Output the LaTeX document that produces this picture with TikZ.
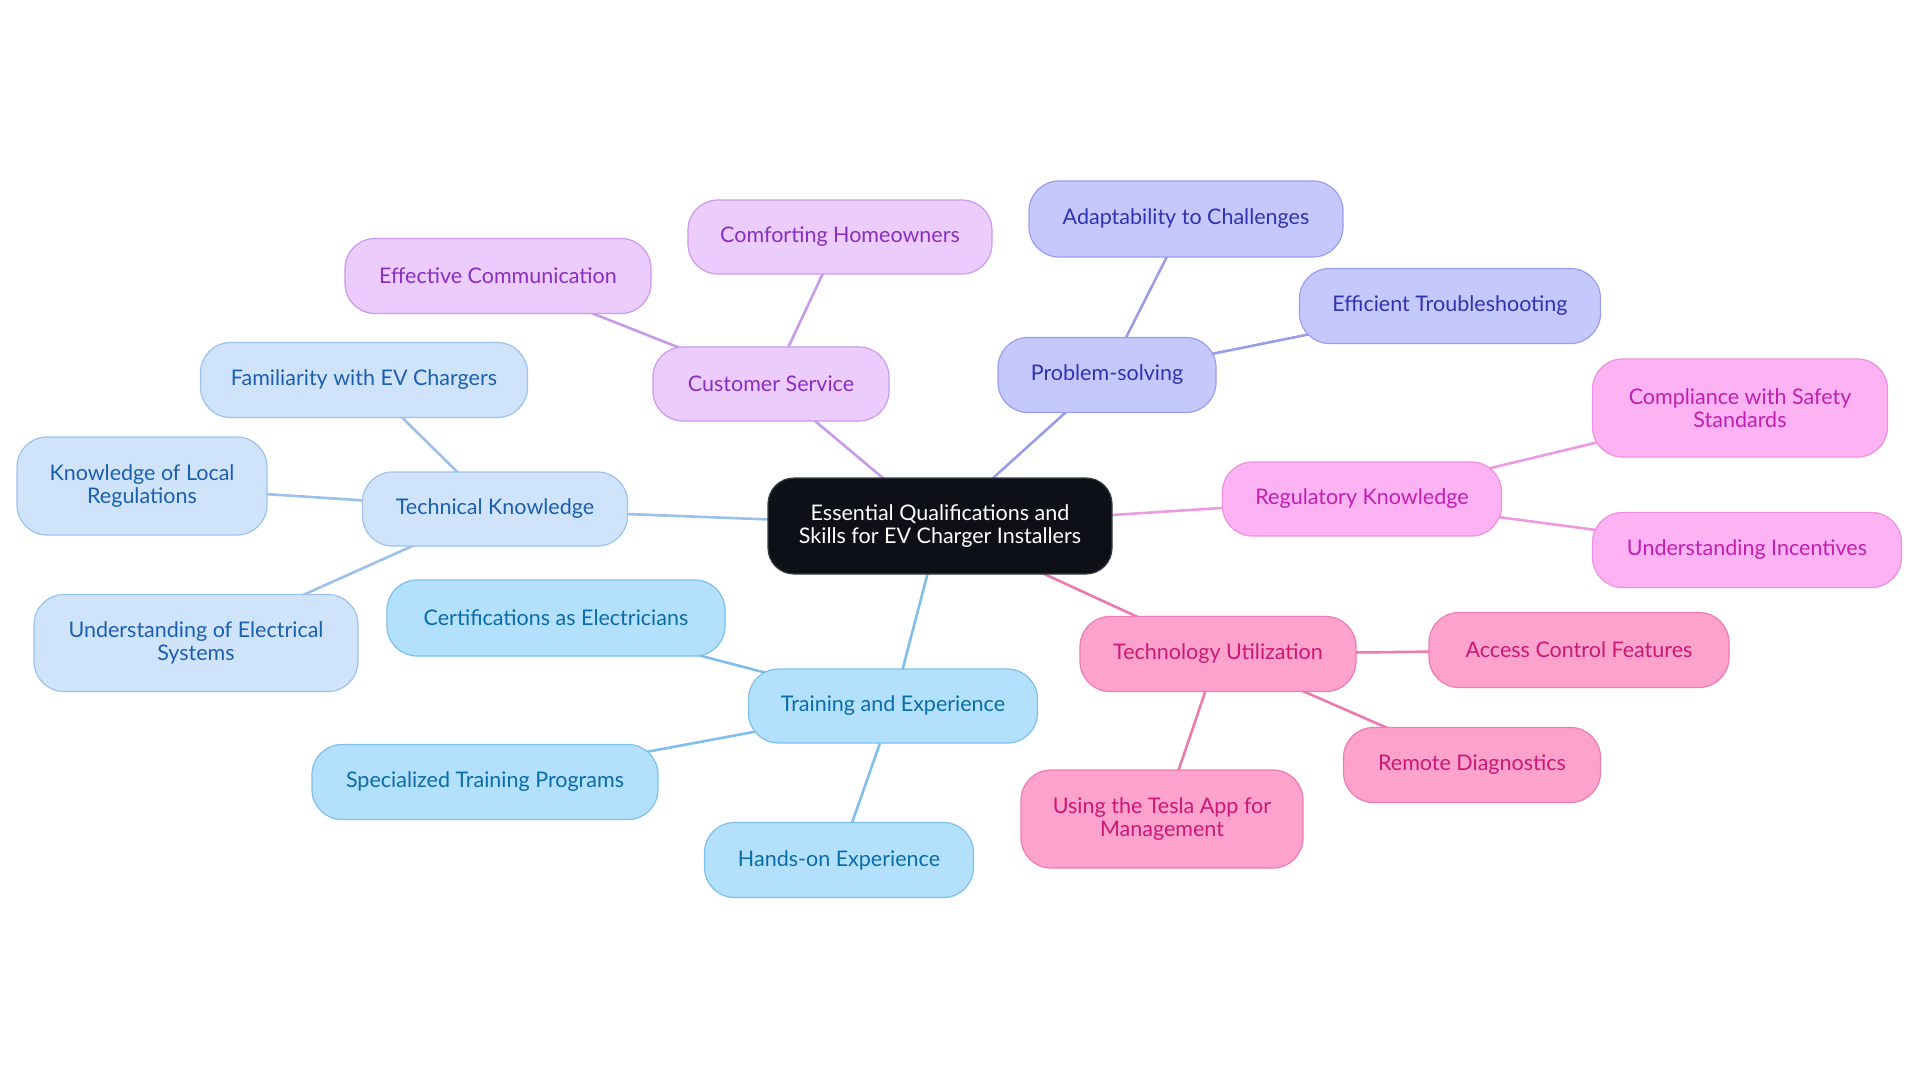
\documentclass[tikz,border=0pt]{standalone}
\usepackage{fontspec}
\setmainfont{Lato}
\usetikzlibrary{backgrounds}
\definecolor{cfill}{HTML}{0D1117}
\definecolor{cdraw}{HTML}{3A3F47}
\definecolor{aFill}{HTML}{CFE3FB}\definecolor{aDraw}{HTML}{9DC3EC}\definecolor{aText}{HTML}{1C5FB0}\definecolor{aLine}{HTML}{9CC0E8}
\definecolor{bFill}{HTML}{B3E0FD}\definecolor{bDraw}{HTML}{7EC0EA}\definecolor{bText}{HTML}{0A6CA8}\definecolor{bLine}{HTML}{7FBFEA}
\definecolor{cFill}{HTML}{EBCCFC}\definecolor{cDraw}{HTML}{CC99EE}\definecolor{cText}{HTML}{8A2FC0}\definecolor{cLine}{HTML}{C79BE8}
\definecolor{dFill}{HTML}{C5C8FC}\definecolor{dDraw}{HTML}{9A9EF0}\definecolor{dText}{HTML}{2F33B0}\definecolor{dLine}{HTML}{9A9EE8}
\definecolor{eFill}{HTML}{FDB3F3}\definecolor{eDraw}{HTML}{EE8FE0}\definecolor{eText}{HTML}{C01FB0}\definecolor{eLine}{HTML}{EE9AE0}
\definecolor{fFill}{HTML}{FDA2CD}\definecolor{fDraw}{HTML}{EE7BB5}\definecolor{fText}{HTML}{CC1777}\definecolor{fLine}{HTML}{E97BB0}
\begin{document}
\begin{tikzpicture}[x=1pt,y=-1pt,
  box/.style={draw, rounded corners=30pt, line width=1.2pt, align=center, inner sep=0pt,
    font=\fontsize{21.5}{23}\selectfont},
  bA/.style={box, fill=aFill, draw=aDraw, text=aText},
  bB/.style={box, fill=bFill, draw=bDraw, text=bText},
  bC/.style={box, fill=cFill, draw=cDraw, text=cText},
  bD/.style={box, fill=dFill, draw=dDraw, text=dText},
  bE/.style={box, fill=eFill, draw=eDraw, text=eText},
  bF/.style={box, fill=fFill, draw=fDraw, text=fText},
  sz/.style 2 args={minimum width=#1pt, minimum height=#2pt},
  lA/.style={draw=aLine, line width=2.6pt},
  lB/.style={draw=bLine, line width=2.6pt},
  lC/.style={draw=cLine, line width=2.6pt},
  lD/.style={draw=dLine, line width=2.6pt},
  lE/.style={draw=eLine, line width=2.6pt},
  lF/.style={draw=fLine, line width=2.6pt}]
\useasboundingbox (0,0) rectangle (1920,1083);

% nodes
\node[box, fill=cfill, draw=cdraw, text=white, rounded corners=26pt, sz={344}{96}] (c) at (940,526) {Essential Qualifications and\\Skills for EV Charger Installers};

\node[bA, sz={265}{74}] (tk) at (495,509) {Technical Knowledge};
\node[bA, sz={327}{75}] (fam) at (364,380) {Familiarity with EV Chargers};
\node[bA, sz={250}{98}] (loc) at (142,486) {Knowledge of Local\\Regulations};
\node[bA, sz={324}{97}] (ele) at (196,643) {Understanding of Electrical\\Systems};

\node[bC, sz={236}{74}] (cs) at (771,384) {Customer Service};
\node[bC, sz={306}{75}] (eff) at (498,276) {Effective Communication};
\node[bC, sz={304}{74}] (com) at (840,237) {Comforting Homeowners};

\node[bD, sz={218}{75}] (ps) at (1107,375) {Problem-solving};
\node[bD, sz={314}{76}] (ada) at (1186,219) {Adaptability to Challenges};
\node[bD, sz={301}{75}] (tro) at (1450,306) {Efficient Troubleshooting};

\node[bE, sz={279}{74}] (rk) at (1362,499) {Regulatory Knowledge};
\node[bE, sz={295}{98}] (cmp) at (1740,408) {Compliance with Safety\\Standards};
\node[bE, sz={309}{75}] (inc) at (1747,550) {Understanding Incentives};

\node[bF, sz={276}{75}] (tu) at (1218,654) {Technology Utilization};
\node[bF, sz={300}{75}] (acc) at (1579,650) {Access Control Features};
\node[bF, sz={257}{75}] (rem) at (1472,765) {Remote Diagnostics};
\node[bF, sz={282}{98}] (tes) at (1162,819) {Using the Tesla App for\\Management};

\node[bB, sz={289}{74}] (te) at (893,706) {Training and Experience};
\node[bB, sz={338}{76}] (cer) at (556,618) {Certifications as Electricians};
\node[bB, sz={346}{75}] (spe) at (485,782) {Specialized Training Programs};
\node[bB, sz={269}{75}] (han) at (839,860) {Hands-on Experience};

% connectors (behind the nodes)
\begin{scope}[on background layer]
\fill[white] (0,0) rectangle (1920,1083);
\draw[lA] (c.center) -- (tk.center);
\draw[lA] (tk.center) -- (fam.center);
\draw[lA] (tk.center) -- (loc.center);
\draw[lA] (tk.center) -- (ele.center);
\draw[lC] (c.center) -- (cs.center);
\draw[lC] (cs.center) -- (eff.center);
\draw[lC] (cs.center) -- (com.center);
\draw[lD] (c.center) -- (ps.center);
\draw[lD] (ps.center) -- (ada.center);
\draw[lD] (ps.center) -- (tro.center);
\draw[lE] (c.center) -- (rk.center);
\draw[lE] (rk.center) -- (cmp.center);
\draw[lE] (rk.center) -- (inc.center);
\draw[lF] (c.center) -- (tu.center);
\draw[lF] (tu.center) -- (acc.center);
\draw[lF] (tu.center) -- (rem.center);
\draw[lF] (tu.center) -- (tes.center);
\draw[lB] (c.center) -- (te.center);
\draw[lB] (te.center) -- (cer.center);
\draw[lB] (te.center) -- (spe.center);
\draw[lB] (te.center) -- (han.center);
\end{scope}
\end{tikzpicture}
\end{document}
